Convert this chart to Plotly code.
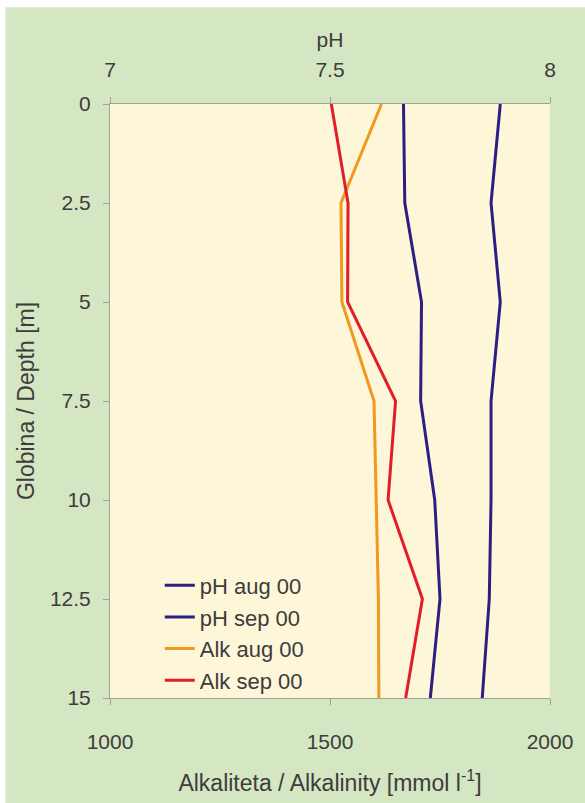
import plotly.graph_objects as go

depth = [0, 2.5, 5, 7.5, 10, 12.5, 15]
ph_aug = [7.667, 7.67, 7.708, 7.706, 7.738, 7.75, 7.728]
ph_sep = [7.887, 7.866, 7.887, 7.866, 7.866, 7.862, 7.846]
alk_aug = [1617, 1525, 1527, 1600, 1605, 1610, 1611]
alk_sep = [1503, 1541, 1540, 1649, 1632, 1710, 1672]

y_ticks = [0, 2.5, 5, 7.5, 10, 12.5, 15]
y_ticklabels = ["0", "2.5", "5", "7.5", "10", "12.5", "15"]
ph_ticks = [7, 7.5, 8]
ph_ticklabels = ["7", "7.5", "8"]
alk_ticks = [1000, 1500, 2000]
alk_ticklabels = ["1000", "1500", "2000"]

BLUE = "#2d1e86"
ORANGE = "#ee9a1c"
RED = "#e01e28"
GREEN = "#d5e6c3"
CREAM = "#fdf6d8"
TXT = "#3c3c3c"
AX = "#9ea290"
FONT = "Liberation Sans, Arial, sans-serif"

fig = go.Figure()
fig.add_trace(go.Scatter(x=ph_aug, y=depth, mode="lines", name="pH aug 00",
                         line=dict(color=BLUE, width=3), xaxis="x2", yaxis="y"))
fig.add_trace(go.Scatter(x=ph_sep, y=depth, mode="lines", name="pH sep 00",
                         line=dict(color=BLUE, width=3), xaxis="x2", yaxis="y"))
fig.add_trace(go.Scatter(x=alk_aug, y=depth, mode="lines", name="Alk aug 00",
                         line=dict(color=ORANGE, width=3), xaxis="x", yaxis="y"))
fig.add_trace(go.Scatter(x=alk_sep, y=depth, mode="lines", name="Alk sep 00",
                         line=dict(color=RED, width=3), xaxis="x", yaxis="y"))

W, H = 585, 803
L, R, T, B = 110, 33, 104, 103
pw = W - L - R
ph = H - T - B

def px2paper_x(px):
    return (px - L) / pw

def py2paper_y(py):
    return (H - B - py) / ph

shapes = [
    dict(type="rect", xref="paper", yref="paper", layer="below",
         x0=px2paper_x(5), x1=px2paper_x(W + 5), y0=py2paper_y(H + 5), y1=py2paper_y(7),
         fillcolor=GREEN, line=dict(width=0)),
    dict(type="rect", xref="paper", yref="paper", layer="below",
         x0=0, x1=1, y0=0, y1=1, fillcolor=CREAM, line=dict(width=0)),
]

tickfont = dict(family=FONT, size=21, color=TXT)
titlefont = dict(family=FONT, size=23, color=TXT)

fig.update_layout(
    width=W, height=H,
    margin=dict(l=L, r=R, t=T, b=B),
    paper_bgcolor="white",
    plot_bgcolor="rgba(0,0,0,0)",
    shapes=shapes,
    showlegend=True,
    legend=dict(x=px2paper_x(160), y=-0.006, xanchor="left", yanchor="bottom",
                bgcolor="rgba(0,0,0,0)", font=dict(family=FONT, size=22, color=TXT),
                tracegroupgap=0, itemwidth=30),
    xaxis=dict(range=[1000, 2000], tickvals=alk_ticks, ticktext=alk_ticklabels,
               showgrid=False, zeroline=False, showline=True, linecolor=AX, linewidth=1,
               ticks="outside", ticklen=6, tickcolor=AX, tickfont=tickfont,
               ticklabelstandoff=19,
               title=dict(text="Alkaliteta / Alkalinity [mmol l<sup>-1</sup>]", font=titlefont, standoff=22),
               side="bottom"),
    xaxis2=dict(range=[7, 8], tickvals=ph_ticks, ticktext=ph_ticklabels,
                overlaying="x", side="top", anchor="y",
                showgrid=False, zeroline=False, showline=True, linecolor=AX, linewidth=1,
                ticks="outside", ticklen=6, tickcolor=AX, tickfont=tickfont,
                ticklabelstandoff=12,
                title=dict(text="pH", font=dict(family=FONT, size=21, color=TXT), standoff=4)),
    yaxis=dict(range=[15, 0], tickvals=y_ticks, ticktext=y_ticklabels,
               showgrid=False, zeroline=False, showline=True, linecolor=AX, linewidth=1,
               ticks="outside", ticklen=6, tickcolor=AX, tickfont=tickfont,
               ticklabelstandoff=8,
               title=dict(text="Globina / Depth [m]", font=titlefont, standoff=8)),
)

fig.write_html("out.html", post_script="document.body.style.margin='0';",
               config={"displayModeBar": False})
